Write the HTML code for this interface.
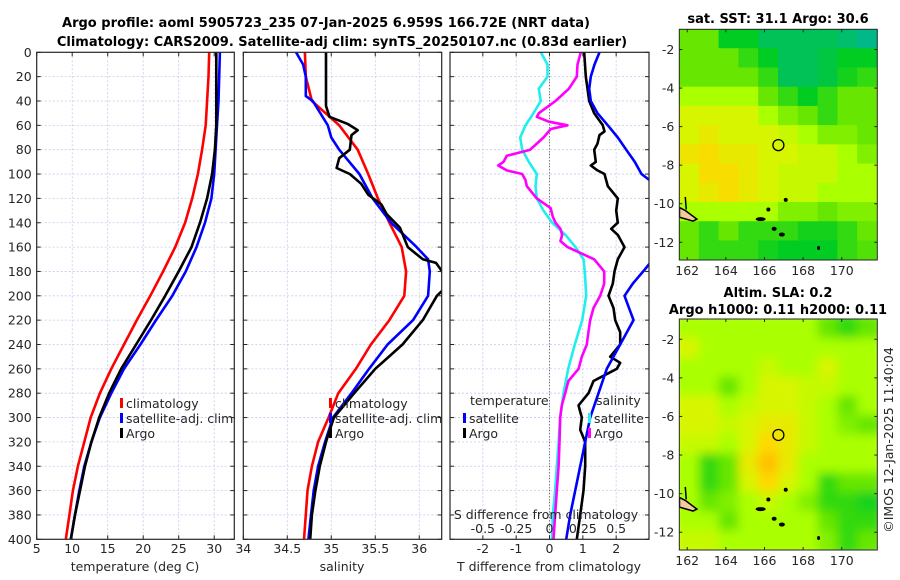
<!DOCTYPE html>
<html><head><meta charset="utf-8">
<style>
html,body{margin:0;padding:0;background:#fff;}
svg{display:block;font-family:"DejaVu Sans","Liberation Sans",sans-serif;}
.tk{font-size:12.5px;fill:#262626;}
.ttl{font-size:13px;font-weight:bold;fill:#000;}
</style></head>
<body>
<svg id="fig" width="900" height="580" viewBox="0 0 900 580" xmlns="http://www.w3.org/2000/svg">
<defs>
<clipPath id="c1"><rect x="36.7" y="52.3" width="197.6" height="487"/></clipPath>
<clipPath id="c2"><rect x="243.3" y="52.3" width="198.4" height="487"/></clipPath>
<clipPath id="c3"><rect x="450" y="52.3" width="199" height="487"/></clipPath>
<filter id="blur2"><feGaussianBlur stdDeviation="5"/></filter>
<clipPath id="cm1"><rect x="679.3" y="29.3" width="198" height="230.7"/></clipPath>
<clipPath id="cm2"><rect x="679.3" y="319" width="198" height="231"/></clipPath>
</defs>
<text class="ttl" x="326" y="27" text-anchor="middle">Argo profile: aoml 5905723_235 07-Jan-2025 6.959S 166.72E (NRT data)</text>
<text class="ttl" x="342" y="46" text-anchor="middle">Climatology: CARS2009. Satellite-adj clim: synTS_20250107.nc (0.83d earlier)</text>
<g id="g1"></g>
<g id="g2"></g>
<g id="g3"></g>
<g id="m1"></g>
<g id="m2"></g>
<text class="tk" x="0" y="0" transform="translate(893,440) rotate(-90)" text-anchor="middle">©IMOS 12-Jan-2025 11:40:04</text>
</svg>
<script>
// ---------- data ----------
const depthTicks = [0,20,40,60,80,100,120,140,160,180,200,220,240,260,280,300,320,340,360,380,400];
const D = [0,20,40,60,80,100,120,140,160,180,200,220,240,260,280,300,320,340,360,380,400];
const tempClim = [29.3,29.2,29.0,28.8,28.3,27.7,26.9,25.9,24.5,22.8,21.0,19.1,17.3,15.5,13.9,12.6,11.7,10.8,10.1,9.6,9.1];
const tempSat = [30.8,30.7,30.6,30.4,30.2,30.0,29.6,28.7,27.5,26.0,24.1,21.8,19.6,17.3,15.5,13.9,12.7,11.7,11.0,10.4,9.8];
const tempArgo = [30.3,30.3,30.3,30.3,30.1,29.7,29.0,28.0,26.8,25.0,23.1,21.1,19.0,16.9,15.2,13.8,12.7,11.8,11.1,10.4,9.8];
const tempTicks = [5,10,15,20,25,30];

const salClim = [34.70,34.71,34.78,35.09,35.30,35.42,35.53,35.66,35.80,35.85,35.83,35.66,35.45,35.28,35.08,34.97,34.85,34.78,34.73,34.71,34.69];
const salSatDepth = [0,10,20,36,40,60,70,80,100,120,140,160,170,180,200,220,240,260,280,300,320,340,360,380,400];
const salSat = [34.60,34.68,34.71,34.71,34.79,34.96,35.0,35.09,35.32,35.47,35.68,35.97,36.1,36.12,36.1,35.93,35.64,35.43,35.23,35.02,34.93,34.85,34.80,34.77,34.74];
const salArgoDepth = [0,44,53,59,64,68,80,87,95,100,108,117,125,133,144,160,170,173,178,185,193,200,220,240,260,280,300,320,340,360,380,400];
const salArgo = [34.94,34.94,34.98,35.19,35.30,35.23,35.21,35.09,35.06,35.21,35.34,35.42,35.57,35.63,35.78,35.87,36.04,36.19,36.24,36.3,36.3,36.2,36.04,35.81,35.5,35.26,35.03,34.94,34.87,34.82,34.78,34.76];
const salTicks = [34,34.5,35,35.5,36];

const sSatDepth = [0,10,20,30,40,50,60,70,80,90,100,110,120,130,140,150,160,170,180,190,200,220,240,260,280,300,320,340,360,380,400];
const sSatDiff = [-0.065,-0.015,-0.015,-0.08,-0.065,-0.12,-0.18,-0.22,-0.205,-0.155,-0.095,-0.105,-0.095,-0.045,0.02,0.12,0.195,0.255,0.265,0.27,0.275,0.245,0.19,0.14,0.105,0.08,0.068,0.055,0.042,0.025,0.018];
const sArgoDepth = [0,10,20,30,40,50,53,57,60,63,70,80,85,90,93,97,100,105,110,120,128,135,140,145,150,155,160,170,180,190,200,210,220,230,240,250,260,270,280,290,300,320,340,360,380,400];
const sArgoDiff = [0.235,0.21,0.205,0.145,0.045,-0.08,-0.095,-0.005,0.135,0.01,-0.045,-0.145,-0.32,-0.345,-0.385,-0.32,-0.205,-0.18,-0.17,-0.095,0.008,0.025,0.045,0.082,0.095,0.082,0.135,0.335,0.41,0.41,0.38,0.33,0.305,0.292,0.28,0.242,0.218,0.142,0.118,0.092,0.08,0.075,0.068,0.055,0.042,0.03];
const tArgoDepth = [0,20,40,50,60,65,68,75,80,90,93,97,100,110,120,130,140,145,150,160,170,180,190,200,210,220,230,240,250,255,260,270,280,290,300,310,320,340,360,380,400];
const tArgoDiff = [1.04,1.09,1.19,1.34,1.6,1.65,1.5,1.44,1.34,1.39,1.24,1.44,1.65,1.75,2.05,2.0,2.05,1.85,2.05,2.25,2.05,1.95,1.9,1.77,1.92,1.97,2.12,2.12,1.82,2.12,2.02,1.32,1.17,0.87,0.97,0.92,1.07,1.07,1.02,0.92,0.82];
const tSatDepth = [0,10,20,30,40,50,60,70,80,90,100,105,120,160,178,190,200,220,240,260,280,300,320,340,360,380,400];
const tSatDiff = [1.5,1.35,1.24,1.19,1.24,1.44,1.75,2.05,2.30,2.56,2.76,3.0,3.4,3.4,2.87,2.5,2.25,2.52,2.12,1.72,1.47,1.22,1.07,0.92,0.77,0.62,0.5];
const tDiffTicks = [-2,-1,0,1,2];
const sDiffTicks = [-0.5,-0.25,0,0.25,0.5];

const mapLatTicks = [-2,-4,-6,-8,-10,-12];
const mapLonTicks = [162,164,166,168,170];
const sstGrid = [
[2,2,1,1,0.5,0.5,0.5,0.5,0.3,0],
[2,2,2,1.5,1,0.5,0.5,0.7,1,1],
[2,2,2,2,1.5,0.5,0.5,0.7,1.2,1.5],
[2.5,2.5,2.5,2.5,2,1.5,1,1.5,2,2],
[3,3,3,3,2.5,2.2,2,1.5,2,2],
[3,3.2,3,3,3,2.8,2.5,2.2,2.2,2],
[3.3,3.4,3.2,3.2,3,3,2.8,2.8,2.5,2.2],
[3,3.4,3.4,3.2,3,2.8,2.8,2.8,2.5,2.5],
[3,3.2,3.4,3.2,3,2.8,2.8,2.5,2.5,2.5],
[2.5,2.5,2.5,2.5,2.5,2.2,2.2,2,2.2,2.2],
[2,1.5,2,1.5,1.5,1.5,1.2,1.2,1.5,2],
[2,1.5,1.5,1.5,1.2,1,1,1,1.5,1.8]];
const slaGrid = [
[2.5,2.5,2.5,2.5,2.5,2.5,2.5,2,1.5,2],
[3,2.5,2.5,2.5,2.5,2.5,2.5,2.5,2.5,2.5],
[2.5,2.5,2.5,2.5,2.8,2.5,2.5,3,2.5,2.5],
[2.5,2.5,2,2.5,3,3,2.8,2.8,2.5,2.5],
[3,3,2.5,2.8,3,3,2.8,2.5,2,2.5],
[3,3,2.8,3,3.2,3.2,2.8,2.5,2.2,2],
[2.8,2.8,2.5,3,3.5,3.2,2.8,2.5,2.5,2.5],
[2.5,1.5,2,3.2,3.8,3.2,2.5,2.5,2.5,2.5],
[2.5,1.5,2,3,3.5,3,2.5,1.5,2,2],
[2.5,2,2.2,2.5,2.8,2.5,2.2,1.5,1.5,1.2],
[2.5,2.5,2,2.5,2.5,2.5,2.5,2,1.5,1.5],
[2.8,2.8,2.5,2.5,2.5,2.5,2.5,2.2,1.5,2]];
const argoLon = 166.72, argoLat = -6.959;

// ---------- helpers ----------
const NS = "http://www.w3.org/2000/svg";
function mk(parent, tag, attrs, text){
  const e = document.createElementNS(NS, tag);
  for (const k in attrs) e.setAttribute(k, attrs[k]);
  if (text !== undefined) e.textContent = text;
  parent.appendChild(e); return e;
}
const Y0 = 52.3, Y1 = 539.3;
const yD = d => Y0 + d/400*(Y1-Y0);
function panel(g, x0, x1, xmin, xmax){
  return v => x0 + (v - xmin)/(xmax - xmin)*(x1 - x0);
}
function grid(g, x0, x1, xs, xticks){
  depthTicks.forEach(d=>{
    if(d>0&&d<400){ const l=mk(g,'line',{x1:x0,x2:x1,y1:yD(d),y2:yD(d),stroke:'#c6c8ee','stroke-width':0.8,'stroke-dasharray':'2,2'});
      }
  });
  xticks.forEach(v=>{ const x=xs(v); if(x>x0+1&&x<x1-1){
    const l=mk(g,'line',{x1:x,x2:x,y1:Y0,y2:Y1,stroke:'#c6c8ee','stroke-width':0.8,'stroke-dasharray':'2,2'});
      }});
}
function frame(g, x0, x1, xs, xticks, yLabels){
  const r=mk(g,'rect',{x:x0,y:Y0,width:x1-x0,height:Y1-Y0,fill:'none',stroke:'#262626','stroke-width':1.2});
   
  depthTicks.forEach(d=>{
    mk(g,'line',{x1:x0,x2:x0+4,y1:yD(d),y2:yD(d),stroke:'#262626'});
    mk(g,'line',{x1:x1,x2:x1-4,y1:yD(d),y2:yD(d),stroke:'#262626'});
    if(yLabels){ const t=mk(g,'text',{class:'tk',x:x0-5,y:yD(d)+4.5,'text-anchor':'end'},String(d));
        }
  });
  xticks.forEach(v=>{ const x=xs(v);
    mk(g,'line',{x1:x,x2:x,y1:Y1,y2:Y1-4,stroke:'#262626'});
    mk(g,'line',{x1:x,x2:x,y1:Y0,y2:Y0+4,stroke:'#262626'});
    const t=mk(g,'text',{class:'tk',x:x,y:553,'text-anchor':'middle'},String(v));
     
  });
}
function line(g, depths, vals, xs, color, clip, name){
  const pts = depths.map((d,i)=> xs(vals[i]).toFixed(1)+','+yD(d).toFixed(1)).join(' ');
  const p = mk(g,'polyline',{points:pts,fill:'none',stroke:color,'stroke-width':2.6,'stroke-linejoin':'round','clip-path':'url(#'+clip+')'});
  
  
}
function legendEntry(g, x, y, color, label, name){
  mk(g,'rect',{x:x,y:y-10,width:3,height:10,fill:color});
  const t=mk(g,'text',{class:'tk',x:x+6,y:y},label);
  
  
}

// ---------- panel 1 ----------
const g1=document.getElementById('g1');
const xT = panel(g1,36.7,234.3,5,32.83);
grid(g1,36.7,234.3,xT,tempTicks);
line(g1,D,tempClim,xT,'#ff0000','c1','temp-climatology-line');
line(g1,D,tempSat,xT,'#0000ff','c1','temp-satellite-line');
line(g1,D,tempArgo,xT,'#000000','c1','temp-argo-line');
frame(g1,36.7,234.3,xT,tempTicks,true);
legendEntry(g1,120,408,'#ff0000','climatology','legend-climatology');
legendEntry(g1,120,423,'#0000ff','satellite-adj. clim','legend-satellite-adj');
legendEntry(g1,120,438,'#000000','Argo','legend-argo');
mk(g1,'text',{class:'tk',x:135,y:571,'text-anchor':'middle','font-size':'13.5px'},'temperature (deg C)');

// ---------- panel 2 ----------
const g2=document.getElementById('g2');
const xS = panel(g2,243.3,441.7,34,36.255);
grid(g2,243.3,441.7,xS,salTicks);
line(g2,D,salClim,xS,'#ff0000','c2','sal-climatology-line');
line(g2,salSatDepth,salSat,xS,'#0000ff','c2','sal-satellite-line');
line(g2,salArgoDepth,salArgo,xS,'#000000','c2','sal-argo-line');
frame(g2,243.3,441.7,xS,salTicks,false);
legendEntry(g2,329,408,'#ff0000','climatology','legend-climatology');
legendEntry(g2,329,423,'#0000ff','satellite-adj. clim','legend-satellite-adj');
legendEntry(g2,329,438,'#000000','Argo','legend-argo');
mk(g2,'text',{class:'tk',x:342,y:571,'text-anchor':'middle','font-size':'13.5px'},'salinity');

// ---------- panel 3 ----------
const g3=document.getElementById('g3');
const xTd = panel(g3,450,649,-2.985,2.985);
const xSd = v => xTd(v*4);
grid(g3,450,649,xTd,tDiffTicks);
mk(g3,'line',{x1:xTd(0),x2:xTd(0),y1:Y0,y2:Y1,stroke:'#555','stroke-width':1,'stroke-dasharray':'1,2'});
line(g3,sSatDepth,sSatDiff,xSd,'#22eeee','c3','sal-satellite-diff-line');
line(g3,tArgoDepth,tArgoDiff,xTd,'#000000','c3','temp-argo-diff-line');
line(g3,tSatDepth,tSatDiff,xTd,'#0000ff','c3','temp-satellite-diff-line');
line(g3,sArgoDepth,sArgoDiff,xSd,'#ff00ff','c3','sal-argo-diff-line');
frame(g3,450,649,xTd,tDiffTicks,false);
mk(g3,'text',{class:'tk',x:470,y:405},'temperature');
mk(g3,'text',{class:'tk',x:596,y:405},'salinity');
legendEntry(g3,463,423,'#0000ff','satellite','legend-temp-satellite');
legendEntry(g3,463,438,'#000000','Argo','legend-argo');
legendEntry(g3,588,423,'#22eeee','satellite','legend-sal-satellite');
legendEntry(g3,588,438,'#ff00ff','Argo','legend-sal-argo');
mk(g3,'text',{class:'tk',x:546,y:519,'text-anchor':'middle'},'S difference from climatology');
sDiffTicks.forEach(v=>{ const t=mk(g3,'text',{class:'tk',x:xSd(v),y:533,'text-anchor':'middle'},String(v));
    });
mk(g3,'text',{class:'tk',x:549,y:571,'text-anchor':'middle','font-size':'13.5px'},'T difference from climatology');

// ---------- maps ----------
const cstops=[[0,[0,184,138]],[1,[0,204,34]],[2,[102,230,0]],[2.5,[170,255,0]],[3,[216,245,0]],[3.5,[255,216,0]],[4,[255,176,0]]];
function cmap(v){
  for(let i=1;i<cstops.length;i++){ if(v<=cstops[i][0]){ const a=cstops[i-1],b=cstops[i],t=(v-a[0])/(b[0]-a[0]);
    return 'rgb('+a[1].map((c,j)=>Math.round(c+(b[1][j]-c)*t)).join(',')+')'; } }
  return 'rgb(255,176,0)';
}
function drawMap(g, top, bot, gridVals, clip, blur, nm){
  const x0=679.3,x1=877.3, lon0=161.59, lon1=171.84, lat0=-0.95, lat1=-12.92;
  const xl = lon => x0+(lon-lon0)/(lon1-lon0)*(x1-x0);
  const yl = lat => top+(lat-lat0)/(lat1-lat0)*(bot-top);
  const inner = mk(g,'g',{'clip-path':'url(#'+clip+')'});
  const cg = mk(inner,'g',blur?{filter:'url(#blur2)'}:{});
  const rows=gridVals.length, cols=gridVals[0].length;
  const cw=(x1-x0)/cols, ch=(bot-top)/rows;
  gridVals.forEach((row,r)=>row.forEach((v,c)=>{
    const e=mk(cg,'rect',{x:x0+c*cw-(blur?6:0)*(c==0)-0.3,y:top+r*ch-(blur?6:0)*(r==0)-0.3,width:cw+0.6+(blur?6:0)*((c==0)+(c==cols-1)),height:ch+0.6+(blur?6:0)*((r==0)+(r==rows-1)),fill:cmap(v)});
    
    
  }));
  const land=mk(inner,'path',{d:'M'+xl(161.6)+','+yl(-10.2)+' L'+xl(161.9)+','+yl(-10.35)+' L'+xl(162.5)+','+yl(-10.8)+' L'+xl(162.3)+','+yl(-10.9)+' L'+xl(161.6)+','+yl(-10.7)+' Z',fill:'#f5c8a0',stroke:'#000','stroke-width':1.5});
   
  mk(inner,'line',{x1:xl(161.9),x2:xl(161.95),y1:yl(-9.65),y2:yl(-10.3),stroke:'#000','stroke-width':1.5});
  [[165.8,-10.8,5],[166.5,-11.3,2.5],[166.9,-11.6,3],[166.2,-10.3,2],[167.1,-9.8,2],[168.8,-12.3,1.5]].forEach(p=>{
    const e=mk(inner,'ellipse',{cx:xl(p[0]),cy:yl(p[1]),rx:p[2],ry:2,fill:'#000'});
     
  });
  const circ=mk(g,'circle',{cx:xl(argoLon),cy:yl(argoLat),r:5.5,fill:'none',stroke:'#000','stroke-width':1.3});
   
  const fr=mk(g,'rect',{x:x0,y:top,width:x1-x0,height:bot-top,fill:'none',stroke:'#262626','stroke-width':1});
   
  mapLatTicks.forEach(l=>{ const y=yl(l);
    mk(g,'line',{x1:x0,x2:x0+3,y1:y,y2:y,stroke:'#262626'}); mk(g,'line',{x1:x1,x2:x1-3,y1:y,y2:y,stroke:'#262626'});
    const t=mk(g,'text',{class:'tk',x:x0-5,y:y+4.5,'text-anchor':'end'},String(l));
      });
  mapLonTicks.forEach(l=>{ const x=xl(l);
    mk(g,'line',{x1:x,x2:x,y1:bot,y2:bot-3,stroke:'#262626'}); mk(g,'line',{x1:x,x2:x,y1:top,y2:top+3,stroke:'#262626'});
    const t=mk(g,'text',{class:'tk',x:x,y:bot+15,'text-anchor':'middle'},String(l));
      });
}
const m1=document.getElementById('m1');
drawMap(m1,29.3,260,sstGrid,'cm1',false,'sst-map');
mk(m1,'text',{class:'ttl',x:778,y:23,'text-anchor':'middle'},'sat. SST: 31.1 Argo: 30.6');
const m2=document.getElementById('m2');
drawMap(m2,319,550,slaGrid,'cm2',true,'sla-map');
mk(m2,'text',{class:'ttl',x:778,y:297,'text-anchor':'middle'},'Altim. SLA: 0.2');
mk(m2,'text',{class:'ttl',x:778,y:314,'text-anchor':'middle'},'Argo h1000: 0.11 h2000: 0.11');
</script>
</body></html>
